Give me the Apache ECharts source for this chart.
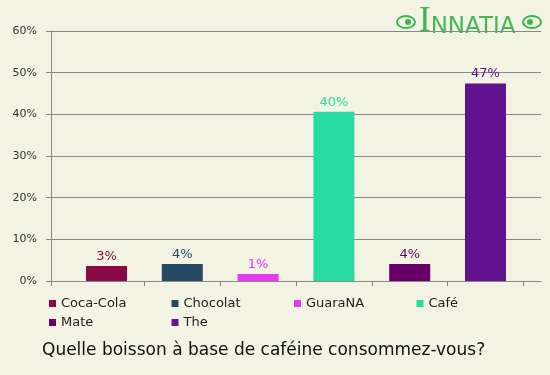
<!DOCTYPE html>
<html>
<head>
<meta charset="utf-8">
<script src="https://cdn.jsdelivr.net/npm/echarts@6/dist/echarts.min.js"></script>
<style>
	html, body { margin: 0; padding: 0; background: #f3f3e3; }
	#chart { width: 550px; height: 375px; }
</style>
</head>
<body>
<div id="chart"></div>
<script>
	var categories = ['Coca-Cola', 'Chocolat', 'GuaraNA', 'Café', 'Mate', 'The'];
	var values = [3.6, 4.1, 1.7, 40.6, 4.1, 47.4];
	var colors = ['#8a0a47', '#264963', '#e639f0', '#27dca2', '#660066', '#62138f'];
	var yTicks = [0, 10, 20, 30, 40, 50, 60];
	var titleText = 'Quelle boisson à base de caféine consommez-vous?';

	var font = 'DejaVu Sans';
	var chart = echarts.init(document.getElementById('chart'));

	var seriesArr = [];
	for (let i = 0; i < categories.length; i++) {
		var d = [];
		for (let j = 0; j < categories.length; j++) {
			d.push(j == i ? values[i] : '-');
		}
		seriesArr.push({
			name: categories[i],
			type: 'bar',
			xAxisIndex: 1,
			yAxisIndex: 1,
			data: d,
			barWidth: 41,
			barGap: '-100%',
			itemStyle: { color: colors[i] },
			label: {
				show: true,
				position: 'top',
				distance: 3,
				color: colors[i],
				fontFamily: font,
				fontSize: 13,
				formatter: function(p) { return Math.floor(p.value) + '%'; }
			}
		});
	}

	var option = {
		backgroundColor: '#f3f3e3',
		animation: false,
		grid: [
			{ left: 51, right: 9, top: 31, bottom: 94 },
			{ left: 68.6, right: 26.6, top: 31, bottom: 94 }
		],
		xAxis: [{
			gridIndex: 0,
			type: 'category',
			boundaryGap: false,
			data: ['', ''],
			axisLine: { show: true, lineStyle: { color: '#888', width: 1 } },
			axisTick: { show: true, length: 5, interval: function(index) { return index == 0; }, lineStyle: { color: '#888' } },
			axisLabel: { show: false }
		}, {
			gridIndex: 1,
			type: 'category',
			data: categories,
			axisLine: { show: false },
			axisTick: { show: true, length: 5, interval: function(index) { return index > 0; }, lineStyle: { color: '#888' } },
			axisLabel: { show: false }
		}],
		yAxis: [{
			gridIndex: 0,
			type: 'value',
			min: yTicks[0],
			max: yTicks[yTicks.length - 1],
			interval: 10,
			axisLine: { show: true, lineStyle: { color: '#888', width: 1 } },
			axisTick: { show: true, length: 5, lineStyle: { color: '#888' } },
			axisLabel: { formatter: '{value}%', color: '#333', fontFamily: font, fontSize: 11, margin: 14 },
			splitLine: { show: true, lineStyle: { color: '#888', width: 1 } }
		}, {
			gridIndex: 1,
			type: 'value',
			min: yTicks[0],
			max: yTicks[yTicks.length - 1],
			show: false
		}],
		legend: {
			data: categories,
			left: 49,
			top: 296,
			width: 500,
			icon: 'rect',
			itemWidth: 7,
			itemHeight: 7,
			itemGap: 4,
			padding: 0,
			textStyle: { color: '#222', fontFamily: font, fontSize: 13, width: 106.5, lineHeight: 15 }
		},
		graphic: [{
			type: 'text',
			left: 42,
			top: 342,
			style: { text: titleText, fill: '#111', font: '17px "DejaVu Sans"' }
		}, {
			type: 'text',
			left: 419,
			top: 4,
			style: {
				text: '{a|I}{b|NNATIA}',
				rich: {
					a: { fontSize: 35, fontFamily: 'Liberation Serif', fill: '#3fb54f' },
					b: { fontSize: 23, fontFamily: 'DejaVu Sans', fill: '#45b855', verticalAlign: 'bottom' }
				}
			}
		}, {
			type: 'ellipse', shape: { cx: 406, cy: 22, rx: 9, ry: 6 },
			style: { fill: 'none', stroke: '#3fb54f', lineWidth: 2 }
		}, {
			type: 'circle', shape: { cx: 408, cy: 22, r: 3 },
			style: { fill: '#3fb54f' }
		}, {
			type: 'ellipse', shape: { cx: 532, cy: 22, rx: 9, ry: 6 },
			style: { fill: 'none', stroke: '#3fb54f', lineWidth: 2 }
		}, {
			type: 'circle', shape: { cx: 530, cy: 22, r: 3 },
			style: { fill: '#3fb54f' }
		}],
		series: seriesArr
	};
	chart.setOption(option);
</script>
</body>
</html>
